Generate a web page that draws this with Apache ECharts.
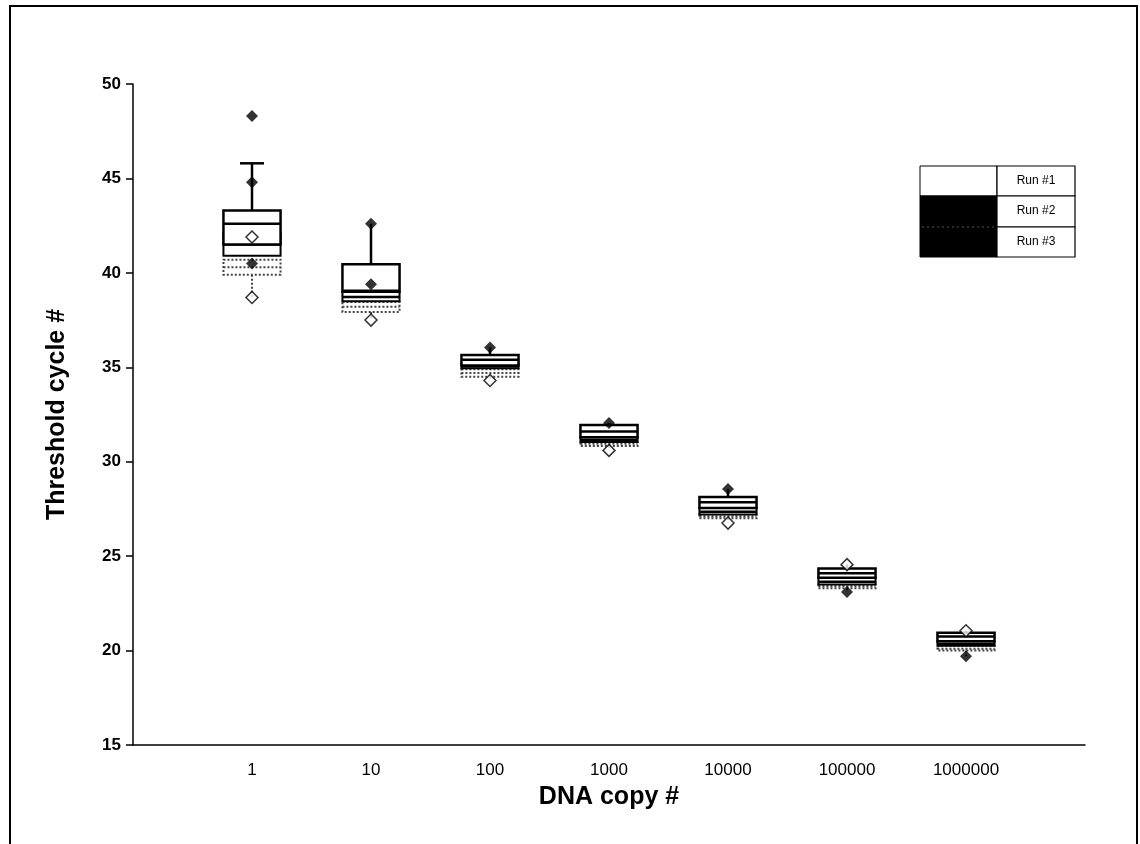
<!DOCTYPE html>
<html>
<head>
<meta charset="utf-8">
<script src="https://cdn.jsdelivr.net/npm/echarts@6/dist/echarts.min.js"></script>
<style>html,body{margin:0;padding:0;background:#fff}#c{width:1140px;height:844px}</style>
</head>
<body>
<div id="c"></div>
<script>
// ---- data ----
const categories = ['1', '10', '100', '1000', '10000', '100000', '1000000'];
const yTicks = [15, 20, 25, 30, 35, 40, 45, 50];
const runNames = ['Run #1', 'Run #2', 'Run #3'];
// [min, Q1, median, Q3, max]
const run1 = [
  [41.5, 41.5, 42.6, 43.3, 45.8],
  [39.0, 39.0, 39.05, 40.45, 42.6],
  [35.1, 35.1, 35.4, 35.65, 36.05],
  [31.3, 31.3, 31.6, 31.95, 32.05],
  [27.55, 27.55, 27.85, 28.13, 28.55],
  [23.85, 23.85, 24.1, 24.35, 24.55],
  [20.5, 20.5, 20.75, 20.95, 21.05]
];
const run2 = [
  [40.9, 40.9, 41.5, 42.1, 42.85],
  [38.5, 38.5, 38.72, 39.0, 39.0],
  [34.9, 34.95, 35.05, 35.15, 35.4],
  [31.0, 31.05, 31.15, 31.3, 31.3],
  [27.2, 27.2, 27.35, 27.55, 27.55],
  [23.5, 23.5, 23.65, 23.85, 23.85],
  [20.25, 20.25, 20.35, 20.5, 20.5]
];
const run3 = [
  [38.7, 39.9, 40.3, 40.7, 40.7],
  [37.5, 37.93, 38.2, 38.46, 38.46],
  [34.3, 34.5, 34.7, 34.9, 34.9],
  [30.6, 30.83, 30.95, 31.05, 31.05],
  [26.75, 27.0, 27.1, 27.2, 27.2],
  [23.1, 23.3, 23.4, 23.5, 23.5],
  [19.7, 20.0, 20.1, 20.25, 20.25]
];
// individual points: [category, value]
const filledPoints = [
  ['1', 48.3], ['1', 44.8], ['1', 40.5], ['10', 42.6], ['10', 39.4],
  ['100', 36.05], ['1000', 32.05], ['10000', 28.55], ['100000', 23.1], ['1000000', 19.7]
];
const openPoints = [
  ['1', 38.7], ['1', 41.9], ['10', 37.5], ['100', 34.3], ['1000', 30.6],
  ['10000', 26.75], ['100000', 24.55], ['1000000', 21.05]
];

// ---- build ----
const axisCats = [''].concat(categories, ['']);
function boxData(run) {
  return run.map((d, i) => [i + 1].concat(d));
}
function ptData(pts) {
  return pts.map(p => [categories.indexOf(p[0]) + 1, p[1]]);
}
function makeBox(name, run, style) {
  return {
    type: 'custom', name: name, z: style.z,
    data: boxData(run),
    encode: { x: 0, y: [1, 2, 3, 4, 5] },
    renderItem: function (params, api) {
      const x = api.value(0);
      const w = api.size([1, 0])[0] * 0.48;
      const capW = w * 0.42;
      const pMin = api.coord([x, api.value(1)]);
      const pQ1 = api.coord([x, api.value(2)]);
      const pMed = api.coord([x, api.value(3)]);
      const pQ3 = api.coord([x, api.value(4)]);
      const pMax = api.coord([x, api.value(5)]);
      const cx = pQ1[0];
      const ls = { stroke: style.color, lineWidth: style.lw, lineDash: style.dash, fill: null };
      const children = [];
      if (pMax[1] < pQ3[1] - 0.5) {
        children.push({ type: 'line', shape: { x1: cx, y1: pQ3[1], x2: cx, y2: pMax[1] }, style: ls });
        if (pQ3[1] - pMax[1] > 44) {
          children.push({ type: 'line', shape: { x1: cx - capW / 2, y1: pMax[1], x2: cx + capW / 2, y2: pMax[1] }, style: ls });
        }
      }
      if (pMin[1] > pQ1[1] + 0.5) {
        children.push({ type: 'line', shape: { x1: cx, y1: pQ1[1], x2: cx, y2: pMin[1] }, style: ls });
      }
      children.push({ type: 'rect', shape: { x: cx - w / 2, y: pQ3[1], width: w, height: pQ1[1] - pQ3[1] },
        style: { stroke: style.color, lineWidth: style.lw, lineDash: style.dash, fill: '#fff' } });
      children.push({ type: 'line', shape: { x1: cx - w / 2, y1: pMed[1], x2: cx + w / 2, y2: pMed[1] },
        style: { stroke: style.color, lineWidth: style.medLw, lineDash: style.dash } });
      return { type: 'group', children: children };
    }
  };
}

const chart = echarts.init(document.getElementById('c'));
const option = {
  backgroundColor: '#fff',
  animation: false,
  grid: { left: 133, right: 55, top: 84, bottom: 99 },
  xAxis: {
    type: 'category', data: axisCats, boundaryGap: false,
    name: 'DNA copy #', nameLocation: 'middle', nameGap: 40,
    nameTextStyle: { fontFamily: 'Liberation Sans', fontWeight: 'bold', fontSize: 25, color: '#000' },
    axisLine: { lineStyle: { color: '#000', width: 1.5 } },
    axisTick: { show: false },
    axisLabel: { color: '#000', fontFamily: 'Liberation Sans', fontSize: 17, margin: 17, interval: 0 },
    splitLine: { show: false }
  },
  yAxis: {
    type: 'value', min: yTicks[0], max: yTicks[yTicks.length - 1], interval: 5,
    name: 'Threshold cycle #', nameLocation: 'middle', nameGap: 63,
    nameTextStyle: { fontFamily: 'Liberation Sans', fontWeight: 'bold', fontSize: 25, color: '#000' },
    axisLine: { show: true, lineStyle: { color: '#000', width: 1.5 } },
    axisTick: { show: true, length: 7, lineStyle: { color: '#000', width: 1.5 } },
    axisLabel: { color: '#000', fontFamily: 'Liberation Sans', fontWeight: 'bold', fontSize: 17, margin: 12 },
    splitLine: { show: false }
  },
  series: [
    makeBox(runNames[2], run3, { color: '#444', lw: 2, medLw: 2, dash: [2, 2], z: 2 }),
    makeBox(runNames[1], run2, { color: '#000', lw: 2, medLw: 2.5, dash: null, z: 3 }),
    makeBox(runNames[0], run1, { color: '#000', lw: 2.5, medLw: 2.5, dash: null, z: 4 }),
    { type: 'scatter', name: 'open', data: ptData(openPoints), symbol: 'diamond', symbolSize: 12, z: 6,
      itemStyle: { color: '#fff', borderColor: '#000', borderWidth: 1.5 } },
    { type: 'scatter', name: 'filled', data: ptData(filledPoints), symbol: 'diamond', symbolSize: 12, z: 7,
      itemStyle: { color: '#000' } }
  ],
  graphic: [
    { type: 'rect', shape: { x: 10, y: 6, width: 1127, height: 845 }, style: { fill: null, stroke: '#000', lineWidth: 2 }, silent: true },
    { type: 'rect', shape: { x: 920, y: 166, width: 77, height: 30 }, style: { fill: '#fff', stroke: '#000', lineWidth: 1 } },
    { type: 'rect', shape: { x: 920, y: 196, width: 77, height: 61 }, style: { fill: '#000', stroke: '#000', lineWidth: 1 } },
    { type: 'line', shape: { x1: 922, y1: 227, x2: 995, y2: 227 }, style: { stroke: '#555', lineWidth: 1, lineDash: [2, 3] } },
    { type: 'rect', shape: { x: 997, y: 166, width: 78, height: 30 }, style: { fill: '#fff', stroke: '#000', lineWidth: 1.2 } },
    { type: 'rect', shape: { x: 997, y: 196, width: 78, height: 31 }, style: { fill: '#fff', stroke: '#000', lineWidth: 1.2 } },
    { type: 'rect', shape: { x: 997, y: 227, width: 78, height: 30 }, style: { fill: '#fff', stroke: '#000', lineWidth: 1.2 } },
    { type: 'text', x: 1036, y: 181, style: { text: runNames[0], fill: '#000', font: '12px "Liberation Sans"', align: 'center', verticalAlign: 'middle' } },
    { type: 'text', x: 1036, y: 211, style: { text: runNames[1], fill: '#000', font: '12px "Liberation Sans"', align: 'center', verticalAlign: 'middle' } },
    { type: 'text', x: 1036, y: 242, style: { text: runNames[2], fill: '#000', font: '12px "Liberation Sans"', align: 'center', verticalAlign: 'middle' } }
  ]
};
chart.setOption(option);
</script>
</body>
</html>
